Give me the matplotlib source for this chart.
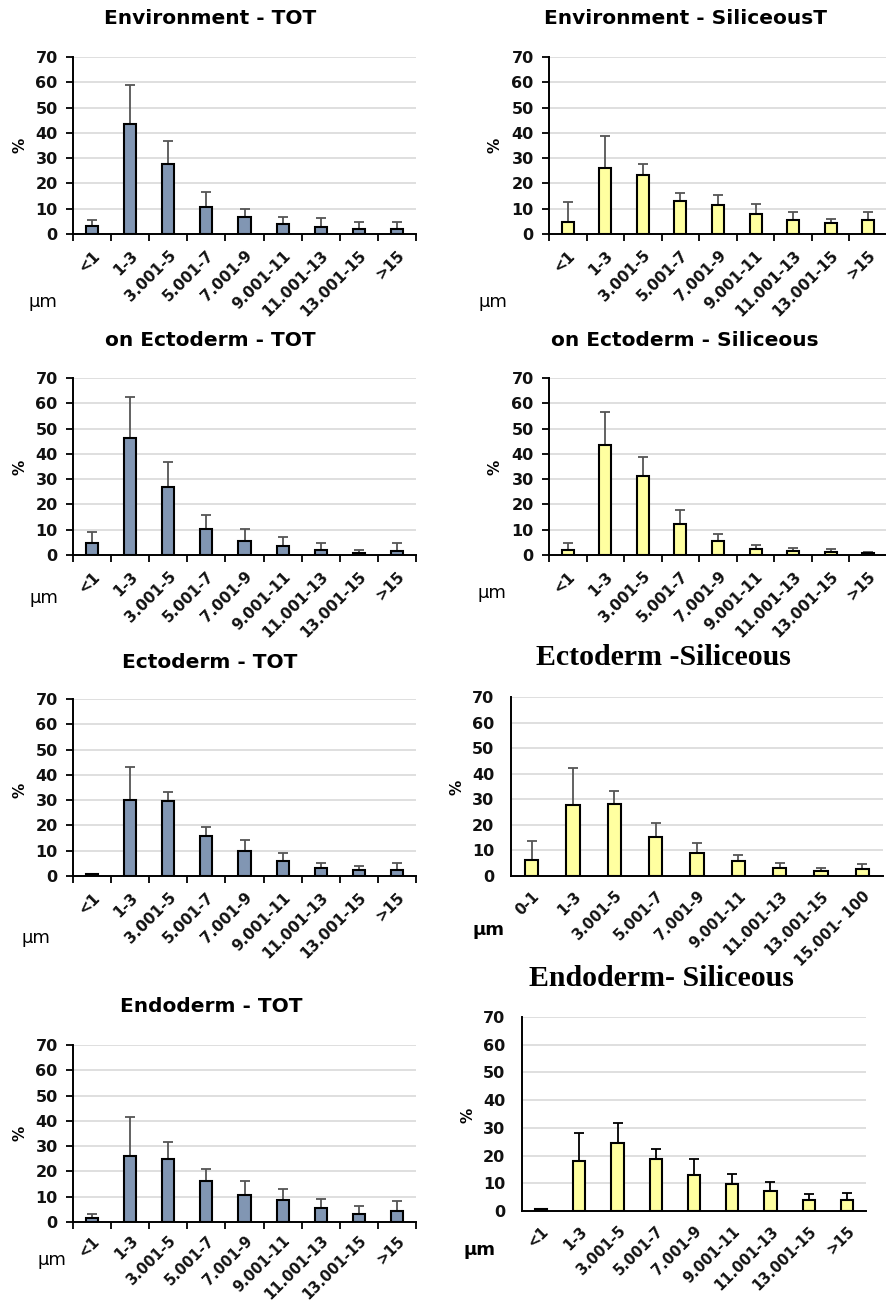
import matplotlib
matplotlib.use("Agg")
import matplotlib.pyplot as plt
import numpy as np

# ---------------- data ----------------
cats = ["<1", "1-3", "3.001-5", "5.001-7", "7.001-9", "9.001-11", "11.001-13", "13.001-15", ">15"]
cats_ecto_sil = ["0-1", "1-3", "3.001-5", "5.001-7", "7.001-9", "9.001-11", "11.001-13", "13.001-15", "15.001- 100"]

env_tot = [3.0, 43.5, 27.6, 10.8, 6.7, 4.1, 2.8, 2.0, 2.0]
env_tot_err = [2.4, 15.6, 9.2, 5.7, 3.3, 2.8, 3.4, 2.6, 2.6]

env_sil = [4.7, 26.1, 23.2, 13.2, 11.5, 7.9, 5.7, 4.4, 5.4]
env_sil_err = [8.1, 12.8, 4.6, 2.9, 3.8, 3.8, 3.1, 1.7, 3.2]

onecto_tot = [4.7, 46.4, 26.9, 10.3, 5.4, 3.4, 1.8, 0.8, 1.6]
onecto_tot_err = [4.5, 16.0, 9.9, 5.5, 4.8, 3.7, 2.8, 1.2, 3.0]

onecto_sil = [2.1, 43.5, 31.1, 12.3, 5.7, 2.4, 1.7, 1.1, 0.7]
onecto_sil_err = [2.5, 13.1, 7.8, 5.4, 2.6, 1.6, 1.2, 1.3, 0.4]

ecto_tot = [0.7, 30.0, 29.5, 16.0, 9.9, 5.9, 3.3, 2.4, 2.4]
ecto_tot_err = [0.1, 13.3, 3.7, 3.5, 4.4, 3.3, 2.0, 1.7, 2.9]

ecto_sil = [6.4, 27.7, 28.2, 15.1, 9.1, 5.9, 3.1, 2.0, 2.9]
ecto_sil_err = [7.1, 14.5, 5.2, 5.5, 3.8, 2.4, 2.1, 1.1, 1.9]

endo_tot = [1.7, 26.1, 25.1, 16.4, 10.8, 8.7, 5.7, 3.0, 4.3]
endo_tot_err = [1.3, 15.3, 6.7, 4.4, 5.4, 4.3, 3.2, 3.2, 4.0]

endo_sil = [0.6, 18.0, 24.7, 18.8, 12.9, 9.7, 7.2, 4.0, 4.0]
endo_sil_err = [0.2, 10.1, 6.9, 3.6, 6.0, 3.8, 3.3, 2.0, 2.6]

yticks = [0, 10, 20, 30, 40, 50, 60, 70]

# ---------------- figure ----------------
W, H = 887, 1305
fig = plt.figure(figsize=(W / 100, H / 100), dpi=100)

BLUE = "#8196B3"
YELLOW = "#FFFFA0"
SANS = "DejaVu Sans"
SERIF = "Liberation Serif"


def fx(x):
    return x / W


def fy(y):
    return 1 - y / H


def panel(box, values, errs, labels, color, title, title_xy, serif=False,
          ticks=True, err_color="#555555", pct_xy=None, um_xy=None, um_bold=False,
          xfs=11, xpad=10):
    l, r, t, b = box
    ax = fig.add_axes([fx(l), fy(b), fx(r - l), (b - t) / H])
    x = np.arange(len(values))
    ax.bar(x, values, width=0.32, color=color, edgecolor="black", linewidth=1.5, zorder=3)
    ax.errorbar(x, values, yerr=[np.zeros(len(errs)), errs], fmt="none",
                ecolor=err_color, elinewidth=1.3, capsize=3.5, capthick=1.3, zorder=2)
    ax.set_xlim(-0.5, len(values) - 0.5)
    ax.set_ylim(0, 70)
    ax.set_yticks(yticks)
    ax.yaxis.grid(True, color="#D9D9D9", linewidth=1.2, zorder=0)
    ax.set_axisbelow(True)
    for s in ("top", "right"):
        ax.spines[s].set_visible(False)
    for s in ("left", "bottom"):
        ax.spines[s].set_linewidth(1.4)
        ax.spines[s].set_color("black")
    ax.set_xticks(x)
    ax.set_xticklabels(labels, rotation=45, ha="right", rotation_mode="anchor",
                       fontsize=xfs, fontweight="bold", family=SANS, color="#111111")
    ax.tick_params(axis="x", which="major", length=0, pad=xpad)
    for lab in ax.get_yticklabels():
        lab.set_fontsize(11.5)
        lab.set_fontweight("bold")
        lab.set_family(SANS)
        lab.set_color("#111111")
    if ticks:
        ax.set_xticks(np.arange(-0.5, len(values)), minor=True)
        ax.tick_params(axis="x", which="minor", length=5, width=1.3, direction="out")
        ax.tick_params(axis="y", length=5, width=1.3, direction="out", pad=6)
    else:
        ax.tick_params(axis="y", length=0, pad=12)
    if serif:
        fig.text(fx(title_xy[0]), fy(title_xy[1]), title, ha="center", va="center",
                 fontsize=21.5, fontweight="bold", family=SERIF)
    else:
        fig.text(fx(title_xy[0]), fy(title_xy[1]), title, ha="center", va="center",
                 fontsize=14.5, fontweight="bold", family=SANS)
    fig.text(fx(pct_xy[0]), fy(pct_xy[1]), "%", rotation=90, ha="center", va="center",
             fontsize=11, fontweight="bold", family=SANS)
    fig.text(fx(um_xy[0]), fy(um_xy[1]), "µm", ha="center", va="center",
             fontsize=13, fontweight="bold" if um_bold else "normal", family=SANS)
    return ax


panel((73, 416, 57, 234), env_tot, env_tot_err, cats, BLUE,
      "Environment - TOT", (210, 18), pct_xy=(20, 145), um_xy=(43, 302))
panel((549, 887, 57, 234), env_sil, env_sil_err, cats, YELLOW,
      "Environment - SiliceousT", (686, 18), pct_xy=(495, 145), um_xy=(493, 302))
panel((73, 416, 378, 555), onecto_tot, onecto_tot_err, cats, BLUE,
      "on Ectoderm - TOT", (210, 340), pct_xy=(20, 467), um_xy=(44, 598))
panel((549, 887, 378, 555), onecto_sil, onecto_sil_err, cats, YELLOW,
      "on Ectoderm - Siliceous", (685, 340), pct_xy=(495, 467), um_xy=(492, 593))
panel((73, 416, 699, 876), ecto_tot, ecto_tot_err, cats, BLUE,
      "Ectoderm - TOT", (210, 662), pct_xy=(20, 790), um_xy=(36, 938))
panel((511, 883, 697, 876), ecto_sil, ecto_sil_err, cats_ecto_sil, YELLOW,
      "Ectoderm -Siliceous", (663, 658), serif=True, ticks=False,
      pct_xy=(457, 787), um_xy=(489, 930), um_bold=True, xfs=10.5, xpad=9)
panel((73, 416, 1045, 1222), endo_tot, endo_tot_err, cats, BLUE,
      "Endoderm - TOT", (211, 1007), pct_xy=(20, 1133), um_xy=(52, 1260),
      xfs=10.5, xpad=8)
panel((522, 866, 1017, 1211), endo_sil, endo_sil_err, cats, YELLOW,
      "Endoderm- Siliceous", (661, 978), serif=True, ticks=False, err_color="black",
      pct_xy=(468, 1115), um_xy=(480, 1250), um_bold=True, xfs=10.5, xpad=9)

fig.savefig("out.png", dpi=100, facecolor="white")
